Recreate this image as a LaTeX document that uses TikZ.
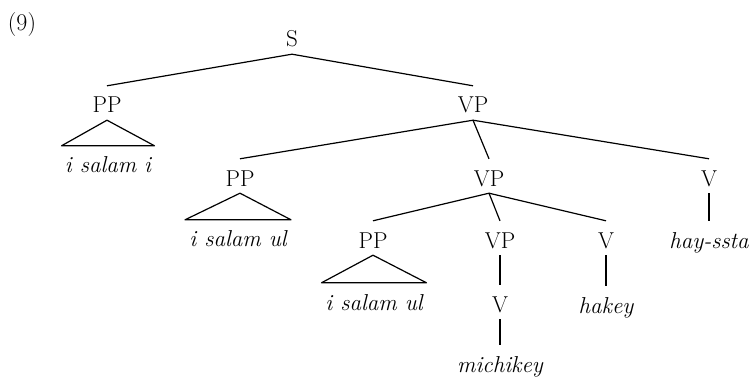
\documentclass[tikz,border=0pt]{standalone}
\begin{document}
\begin{tikzpicture}[x=1pt,y=-1pt,
  every node/.style={font=\fontsize{23}{27}\selectfont},
  lab/.style={anchor=base,inner xsep=1pt,inner ysep=2pt,text height=25pt,text depth=5pt},
  leaf/.style={lab,font=\fontsize{23}{27}\selectfont\itshape},
  edge/.style={line width=1.2pt,line join=round}]
\useasboundingbox (0,0) rectangle (753,377);
\node[anchor=center,font=\fontsize{24}{28}\selectfont] (nine) at (22,25) {(9)};
\node[lab] (S) at (292,47) {S};
\node[lab] (PPa) at (107,113) {PP};
\node[lab] (VPa) at (473,113) {VP};
\node[leaf] (La) at (108,173) {i salam i};
\node[lab] (PPb) at (240,186) {PP};
\node[lab] (VPb) at (489,186) {VP};
\node[lab] (Va) at (709,186) {V};
\node[leaf] (Lb) at (238,247) {i salam ul};
\node[leaf] (Lhs) at (709,248) {hay-ssta};
\node[lab] (PPc) at (373,248) {PP};
\node[lab] (VPc) at (500,248) {VP};
\node[lab] (Vb) at (606,248) {V};
\node[leaf] (Lc) at (374,310) {i salam ul};
\node[lab] (Vc) at (500,312) {V};
\node[leaf] (Lhk) at (606,313) {hakey};
\node[leaf] (Lmk) at (500,372) {michikey};
\draw[edge] (PPa.north) -- (S.south) -- (VPa.north);
\draw[edge] (PPb.north) -- (VPa.south) -- (VPb.north);
\draw[edge] (VPa.south) -- (Va.north);
\draw[edge] (PPc.north) -- (VPb.south) -- (VPc.north);
\draw[edge] (VPb.south) -- (Vb.north);
\draw[edge] (VPc.south) -- (Vc.north);
\draw[edge] (Vc.south) -- (Lmk.north);
\draw[edge] (Vb.south) -- (Lhk.north);
\draw[edge] (Va.south) -- (Lhs.north);
\draw[edge] (PPa.south) -- ([xshift=-46.5]La.north) -- ([xshift=46.5]La.north) -- cycle;
\draw[edge] (PPb.south) -- ([xshift=-53]Lb.north) -- ([xshift=53]Lb.north) -- cycle;
\draw[edge] (PPc.south) -- ([xshift=-52.5]Lc.north) -- ([xshift=52.5]Lc.north) -- cycle;
\end{tikzpicture}
\end{document}
